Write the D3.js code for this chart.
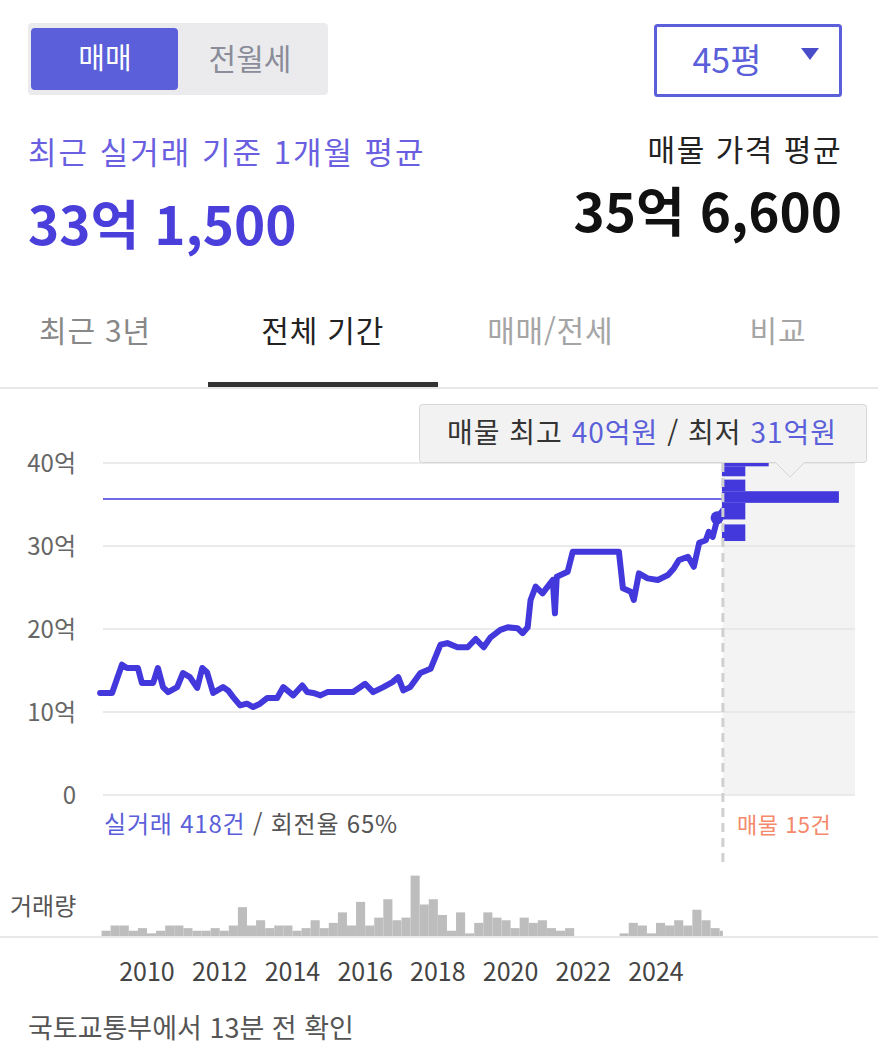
<!DOCTYPE html>
<html lang="ko">
<head>
<meta charset="utf-8">
<script src="https://cdn.jsdelivr.net/npm/d3@7"></script>
<style>
body { margin: 0; background: #fff; }
text { font-family: "Noto Sans CJK KR", "Noto Sans", sans-serif; }
</style>
</head>
<body>
<div id="chart"></div>
<script>
// price history (decimal year -> 억)
var lineYears = [2008.71, 2009.04, 2009.31, 2009.45, 2009.75, 2009.86, 2010.17, 2010.30, 2010.44, 2010.58,
  2010.83, 2010.99, 2011.18, 2011.38, 2011.52, 2011.65, 2011.82, 2012.09, 2012.23, 2012.37,
  2012.56, 2012.75, 2012.92, 2013.11, 2013.31, 2013.58, 2013.75, 2013.94, 2014.02, 2014.27,
  2014.41, 2014.57, 2014.77, 2014.96, 2015.32, 2015.67, 2016.00, 2016.22, 2016.50, 2016.75,
  2016.91, 2017.05, 2017.24, 2017.52, 2017.80, 2018.07, 2018.26, 2018.54, 2018.82, 2019.04,
  2019.26, 2019.45, 2019.72, 2019.92, 2020.19, 2020.33, 2020.47, 2020.55, 2020.69, 2020.88,
  2021.02, 2021.16, 2021.22, 2021.27, 2021.57, 2021.71, 2022.12, 2022.98, 2023.09, 2023.31,
  2023.39, 2023.53, 2023.77, 2024.05, 2024.33, 2024.49, 2024.63, 2024.88, 2025.04, 2025.19,
  2025.37, 2025.45, 2025.56, 2025.70, 2025.84]
var linePrices = [12.3, 12.3, 15.7, 15.3, 15.3, 13.5, 13.5, 15.3, 13.0, 12.4,
  13.0, 14.7, 14.2, 12.9, 15.3, 14.8, 12.3, 13.0, 12.6, 11.8,
  10.8, 11.0, 10.6, 11.0, 11.7, 11.7, 13.0, 12.3, 12.0, 13.2,
  12.4, 12.3, 12.0, 12.4, 12.4, 12.4, 13.4, 12.4, 13.0, 13.6,
  14.2, 12.6, 13.0, 14.7, 15.2, 18.1, 18.3, 17.8, 17.8, 18.8,
  17.8, 19.0, 19.9, 20.2, 20.1, 19.5, 20.2, 23.5, 25.1, 24.3,
  25.1, 25.9, 21.9, 26.3, 26.9, 29.3, 29.3, 29.3, 24.9, 24.5,
  23.5, 26.7, 26.1, 25.9, 26.5, 27.3, 28.3, 28.7, 27.5, 30.4,
  30.7, 31.7, 31.1, 33.5, 34.3]

var nowYear = 2025.84
var recentYear = 2025.68
var recentAvg = 33.4      // 최근 1개월 평균
var offerAvg = 35.66      // 매물 가격 평균

// quarterly trade volume from 2008 Q4
var volStart = 2008.75
var volCounts = [2, 4, 4, 2, 3, 1, 2, 4, 4, 3, 2, 2, 3, 2, 4, 11, 4, 6, 3, 4,
  4, 2, 3, 6, 3, 5, 9, 4, 13, 4, 7, 14, 6, 7, 23, 12, 14, 8, 2, 9,
  1, 5, 9, 7, 6, 3, 7, 5, 6, 3, 2, 3, 0, 0, 0, 0, 0, 1, 5, 4,
  1, 5, 4, 6, 4, 10, 6, 3, 2]

// listings by price band (억)
var offerLo = [39.6, 38.4, 36.6, 35.2, 33.2, 30.6]
var offerHi = [40.0, 39.6, 38.0, 36.6, 35.2, 32.6]
var offerCount = [2, 1, 1, 5, 1, 1]

var yTicks = [0, 10, 20, 30, 40]
var xTicks = [2010, 2012, 2014, 2016, 2018, 2020, 2022, 2024]
var tabs = ["최근 3년", "전체 기간", "매매/전세", "비교"]

var width = 878, height = 1054
var purple = "#5b5fd9", lineColor = "#4338dc"

var svg = d3.select("#chart").append("svg")
  .attr("width", width)
  .attr("height", height)

// ---- header ----
svg.append("rect").attr("x", 28).attr("y", 23).attr("width", 300).attr("height", 72)
  .attr("rx", 4).attr("fill", "#ebebed")
svg.append("rect").attr("x", 31).attr("y", 28).attr("width", 147).attr("height", 62)
  .attr("rx", 4).attr("fill", purple)
svg.append("text").attr("x", 105).attr("y", 59).attr("dy", "0.35em")
  .attr("text-anchor", "middle").attr("font-size", 29).attr("fill", "#fff").text("매매")
svg.append("text").attr("x", 250).attr("y", 59).attr("dy", "0.35em")
  .attr("text-anchor", "middle").attr("font-size", 30).attr("fill", "#8a8d99").text("전월세")

svg.append("rect").attr("x", 655.5).attr("y", 25.5).attr("width", 185).attr("height", 70)
  .attr("rx", 2).attr("fill", "#fff").attr("stroke", purple).attr("stroke-width", 3)
svg.append("text").attr("x", 727).attr("y", 61).attr("dy", "0.35em")
  .attr("text-anchor", "middle").attr("font-size", 34).attr("fill", purple).text("45평")
svg.append("path").attr("d", "M801,48L819,48L810,60Z").attr("fill", "#4a4dc9")

svg.append("text").attr("x", 28).attr("y", 164).attr("font-size", 31).attr("letter-spacing", 2)
  .attr("fill", "#6a5fe0").text("최근 실거래 기준 1개월 평균")
svg.append("text").attr("x", 28).attr("y", 245).attr("font-size", 53).attr("font-weight", 700)
  .attr("fill", "#4a3fdb").text("33억 1,500")
svg.append("text").attr("x", 842).attr("y", 161).attr("text-anchor", "end").attr("font-size", 30)
  .attr("letter-spacing", 1.5).attr("fill", "#222").text("매물 가격 평균")
svg.append("text").attr("x", 842).attr("y", 232).attr("text-anchor", "end").attr("font-size", 53)
  .attr("font-weight", 700).attr("fill", "#111").text("35억 6,600")

var tabX = d3.scalePoint().domain(tabs).range([95, 778])
svg.selectAll(".tab").data(tabs).enter().append("text")
  .attr("class", "tab")
  .attr("x", function(d) { return tabX(d) })
  .attr("y", 342)
  .attr("text-anchor", "middle")
  .attr("font-size", 30)
  .attr("letter-spacing", 0.8)
  .attr("fill", function(d, i) { return i == 1 ? "#222" : (i == 0 ? "#888" : "#a5a5a5") })
  .text(function(d) { return d })
svg.append("rect").attr("x", 208).attr("y", 382).attr("width", 230).attr("height", 5).attr("fill", "#333")
svg.append("rect").attr("x", 0).attr("y", 387).attr("width", width).attr("height", 2).attr("fill", "#e8e8e8")

// ---- price chart ----
var x = d3.scaleLinear().domain([2010, 2024]).range([147, 656])
var y = d3.scaleLinear().domain([0, 40]).range([795, 463])
var plotLeft = 103, plotRight = 855

svg.append("rect").attr("x", x(nowYear)).attr("y", 405)
  .attr("width", plotRight - x(nowYear)).attr("height", y(0) - 405).attr("fill", "#f3f3f3")

svg.selectAll(".grid").data(yTicks).enter().append("line")
  .attr("x1", plotLeft).attr("x2", plotRight)
  .attr("y1", function(d) { return y(d) }).attr("y2", function(d) { return y(d) })
  .attr("stroke", "#e4e4e4").attr("stroke-width", 1.5)

svg.selectAll(".ylab").data(yTicks).enter().append("text")
  .attr("x", 76).attr("y", function(d) { return y(d) + 9 })
  .attr("text-anchor", "end").attr("font-size", 24).attr("fill", "#666")
  .text(function(d) { return d ? d + "억" : "0" })

// 매물 평균 line
svg.append("line").attr("x1", plotLeft).attr("x2", x(nowYear))
  .attr("y1", y(offerAvg)).attr("y2", y(offerAvg))
  .attr("stroke", lineColor).attr("stroke-width", 1.5)

var lineData = lineYears.map(function(d, i) { return [d, linePrices[i]] })
var line = d3.line()
  .x(function(d) { return x(d[0]) })
  .y(function(d) { return y(d[1]) })
svg.append("path").datum(lineData)
  .attr("d", line)
  .attr("fill", "none").attr("stroke", lineColor)
  .attr("stroke-width", 6).attr("stroke-linejoin", "round").attr("stroke-linecap", "round")

// listings histogram
var cw = d3.scaleLinear().domain([0, 5]).range([0, 117])
svg.selectAll(".offer").data(offerCount).enter().append("rect")
  .attr("x", x(nowYear) - 1)
  .attr("y", function(d, i) { return y(offerHi[i]) })
  .attr("width", function(d) { return cw(d) })
  .attr("height", function(d, i) { return y(offerLo[i]) - y(offerHi[i]) })
  .attr("fill", lineColor)

svg.append("circle").attr("cx", x(recentYear)).attr("cy", y(recentAvg)).attr("r", 6.5).attr("fill", lineColor)

svg.append("line").attr("x1", x(nowYear)).attr("x2", x(nowYear)).attr("y1", 463).attr("y2", 862)
  .attr("stroke", "#d0d0d0").attr("stroke-width", 3).attr("stroke-dasharray", "9,6")

// tooltip
var tip = svg.append("g")
tip.append("rect").attr("x", 419.5).attr("y", 404.5).attr("width", 447).attr("height", 58)
  .attr("rx", 3).attr("fill", "#f2f2f2").attr("stroke", "#d6d6d6")
tip.append("path").attr("d", "M775,462L790,477L805,462").attr("fill", "#f2f2f2").attr("stroke", "#d6d6d6")
tip.append("rect").attr("x", 776).attr("y", 461).attr("width", 28).attr("height", 2).attr("fill", "#f2f2f2")
var tt = tip.append("text").attr("x", 642).attr("y", 443).attr("text-anchor", "middle")
  .attr("font-size", 28).attr("letter-spacing", 1).attr("fill", "#333")
tt.append("tspan").text("매물 최고 ")
tt.append("tspan").attr("fill", purple).text("40억원")
tt.append("tspan").text(" / 최저 ")
tt.append("tspan").attr("fill", purple).text("31억원")

var info = svg.append("text").attr("x", 104).attr("y", 833).attr("font-size", 24).attr("letter-spacing", 0.8)
info.append("tspan").attr("fill", purple).text("실거래 418건")
info.append("tspan").attr("fill", "#555").text(" / 회전율 65%")
svg.append("text").attr("x", 737).attr("y", 833).attr("font-size", 22).attr("letter-spacing", 0.5)
  .attr("fill", "#f5896b").text("매물 15건")

// ---- volume ----
var vy = d3.scaleLinear().domain([0, 24]).range([936, 873])
svg.append("text").attr("x", 10).attr("y", 915).attr("font-size", 24).attr("fill", "#555").text("거래량")
svg.selectAll(".vol").data(volCounts).enter().append("rect")
  .attr("x", function(d, i) { return x(volStart + i * 0.25) })
  .attr("y", function(d) { return vy(d) })
  .attr("width", function(d, i) {
    var q0 = volStart + i * 0.25
    return x(Math.min(q0 + 0.25, nowYear)) - x(q0)
  })
  .attr("height", function(d) { return vy(0) - vy(d) })
  .attr("fill", "#bdbdbd")
svg.append("rect").attr("x", 0).attr("y", 936).attr("width", width).attr("height", 2).attr("fill", "#e8e8e8")

svg.selectAll(".xlab").data(xTicks).enter().append("text")
  .attr("x", function(d) { return x(d) }).attr("y", 981)
  .attr("text-anchor", "middle").attr("font-size", 25).attr("fill", "#444")
  .text(function(d) { return d })

svg.append("text").attr("x", 28).attr("y", 1038).attr("font-size", 27).attr("fill", "#555")
  .text("국토교통부에서 13분 전 확인")
</script>
</body>
</html>
